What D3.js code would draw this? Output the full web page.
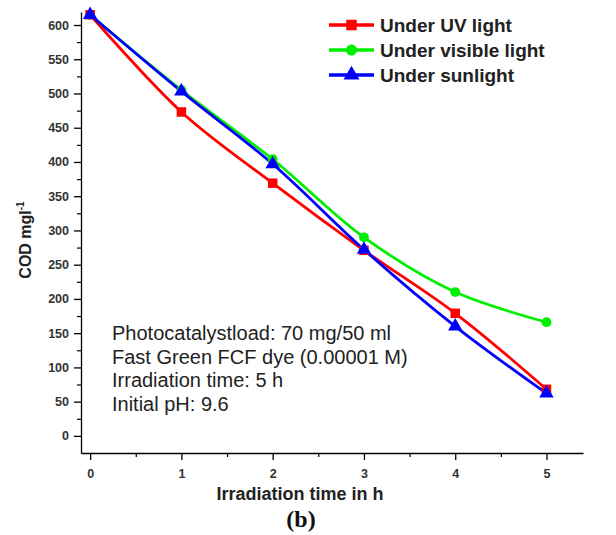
<!DOCTYPE html>
<html><head><meta charset="utf-8">
<script src="https://cdn.jsdelivr.net/npm/d3@7/dist/d3.min.js"></script>
<style>body{margin:0;background:#fff}svg{display:block}</style>
</head><body>
<svg id="c" width="616" height="535"></svg>
<script>
const hours = [0, 1, 2, 3, 4, 5];
const uvLight = [615, 473, 369, 271, 179, 68];
const visibleLight = [615, 505, 404, 290, 210, 166];
const sunlight = [615, 503, 397, 272, 160, 62];
const seriesNames = ["Under UV light", "Under visible light", "Under sunlight"];
const yTicks = [0, 50, 100, 150, 200, 250, 300, 350, 400, 450, 500, 550, 600];
const xTicks = [0, 1, 2, 3, 4, 5];
const notes = ["Photocatalystload: 70 mg/50 ml", "Fast Green FCF dye (0.00001 M)", "Irradiation time: 5 h", "Initial pH: 9.6"];

const svg = d3.select("#c");
const x = d3.scaleLinear().domain([-0.1, 5.4]).range([81, 583]);
const y = d3.scaleLinear().domain([-25, 619]).range([453, 12]);
const font = "'Liberation Sans', Arial, sans-serif";

// axes
const yAxis = d3.axisLeft(y).tickValues(yTicks).tickSize(7).tickSizeOuter(0).tickPadding(5);
const gy = svg.append("g").attr("transform", "translate(81,0)").call(yAxis);
gy.select(".domain").attr("stroke", "#000").attr("stroke-width", 1.3);
gy.selectAll(".tick line").attr("stroke-width", 1.3);
gy.selectAll("text").attr("font-family", font).attr("font-size", 12.5).attr("font-weight", "bold").attr("fill", "#333");
const yMinor = d3.range(25, 600, 50);
svg.append("g").attr("transform", "translate(81,0)").call(d3.axisLeft(y).tickValues(yMinor).tickSize(4).tickFormat(""))
  .call(g => { g.select(".domain").remove(); g.selectAll("line").attr("stroke-width", 1.2); });

const xAxis = d3.axisBottom(x).tickValues(xTicks).tickFormat(d3.format("d")).tickSize(7).tickSizeOuter(0).tickPadding(9);
const gx = svg.append("g").attr("transform", "translate(0,453)").call(xAxis);
gx.select(".domain").attr("stroke", "#000").attr("stroke-width", 1.3);
gx.selectAll(".tick line").attr("stroke-width", 1.3);
gx.selectAll("text").attr("font-family", font).attr("font-size", 12.5).attr("font-weight", "bold").attr("fill", "#333");
svg.append("g").attr("transform", "translate(0,453)").call(d3.axisBottom(x).tickValues([0.5, 1.5, 2.5, 3.5, 4.5]).tickSize(4).tickFormat(""))
  .call(g => { g.select(".domain").remove(); g.selectAll("line").attr("stroke-width", 1.2); });

// labels
svg.append("text").attr("x", 300).attr("y", 500).attr("text-anchor", "middle")
  .attr("font-family", font).attr("font-size", 18).attr("font-weight", "bold").attr("fill", "#222")
  .text("Irradiation time in h");
svg.append("text").attr("x", 301).attr("y", 527).attr("text-anchor", "middle")
  .attr("font-family", "'Liberation Serif', 'Times New Roman', serif").attr("font-size", 24).attr("font-weight", "bold").attr("fill", "#111")
  .text("(b)");
const yl = svg.append("text").attr("transform", "translate(31,240) rotate(-90)").attr("text-anchor", "middle")
  .attr("font-family", font).attr("font-size", 16).attr("font-weight", "bold").attr("fill", "#222");
yl.append("tspan").text("COD mgl");
yl.append("tspan").attr("dy", -7).attr("font-size", 10).text("-1");

// series
const colors = ["#ff0000", "#00ee00", "#0000ff"];
const data = [uvLight, visibleLight, sunlight];
const line = d3.line().x((d, i) => x(hours[i])).y(d => y(d)).curve(d3.curveCatmullRom.alpha(0.5));
const order = [1, 0, 2];
order.forEach(k => {
  svg.append("path").datum(data[k]).attr("d", line).attr("fill", "none")
    .attr("stroke", colors[k]).attr("stroke-width", 2.8);
});
const sym = [d3.symbolSquare, d3.symbolCircle, d3.symbolTriangle];
const symSize = [90, 75, 90];
order.forEach(k => {
  svg.append("g").selectAll("path").data(data[k]).join("path")
    .attr("transform", (d, i) => `translate(${x(hours[i])},${y(d)})`)
    .attr("d", d3.symbol().type(sym[k]).size(symSize[k])).attr("fill", colors[k]);
});

// legend
seriesNames.forEach((n, k) => {
  const ly = 25 + k * 25;
  const g = svg.append("g");
  g.append("line").attr("x1", 329).attr("x2", 374).attr("y1", ly).attr("y2", ly).attr("stroke", colors[k]).attr("stroke-width", 3.5);
  g.append("path").attr("transform", `translate(351.5,${ly})`).attr("d", d3.symbol().type(sym[k]).size(symSize[k] + 20)).attr("fill", colors[k]);
  g.append("text").attr("x", 380).attr("y", ly + 7).attr("font-family", font).attr("font-size", 19)
    .attr("font-weight", "bold").attr("fill", "#222").text(n);
});

// notes
notes.forEach((t, i) => {
  svg.append("text").attr("x", 112).attr("y", 340 + i * 23.5).attr("font-family", font)
    .attr("font-size", 20).attr("fill", "#222").text(t);
});
</script>
</body></html>
